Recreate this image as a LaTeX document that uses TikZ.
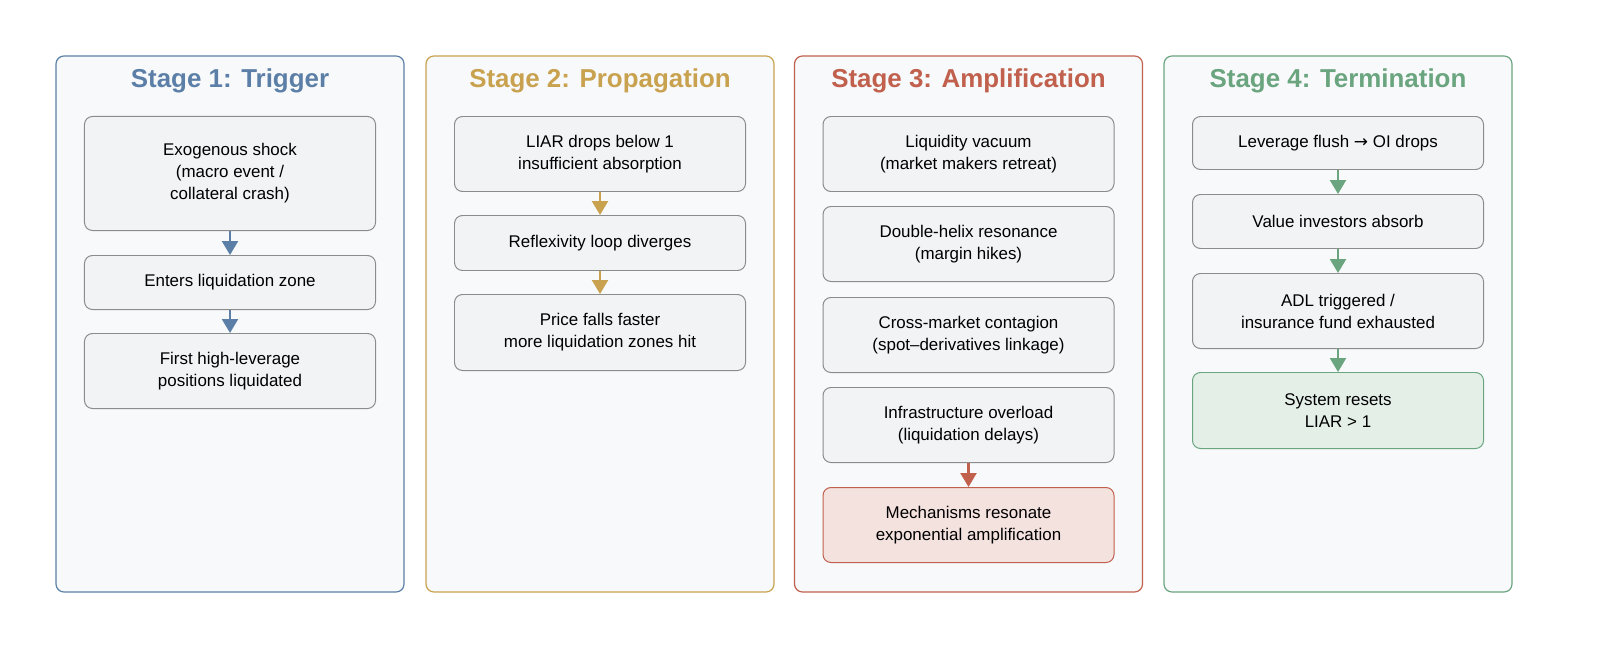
\documentclass[tikz,border=0pt]{standalone}
\usepackage{fontspec}
\setmainfont{Liberation Sans}
\usetikzlibrary{arrows.meta}
\definecolor{cblue}{HTML}{5B7FA6}
\definecolor{cgold}{HTML}{C9A24F}
\definecolor{cred}{HTML}{C0604D}
\definecolor{cgreen}{HTML}{6AA57F}
\definecolor{boxfill}{HTML}{F2F3F5}
\definecolor{panelfill}{HTML}{F8F9FB}
\begin{document}
\begin{tikzpicture}[x=0.5bp,y=-0.5bp,
                          panel/.style={rectangle, draw=#1, fill=panelfill, rounded corners=4pt, line width=0.6pt, minimum width=174bp, minimum height=268bp},
                          title/.style={text=#1, font=\bfseries\fontsize{13}{15}\selectfont},
                          stepbox/.style={rectangle, draw=black!45, fill=boxfill, rounded corners=4pt, line width=0.5pt, minimum width=145.5bp, align=center, font=\fontsize{8.5}{11}\selectfont},
                          hot/.style={stepbox, fill=#1!18, draw=#1},
                          flow/.style={-{Triangle[width=8pt,length=7pt]}, draw=#1, line width=1.2pt},
                      ]
                      \useasboundingbox (0,0) rectangle (1600,662);
                      %Panels
                      \node[panel=cblue]  (p1) at (230,324)  {};
                      \node[panel=cgold]  (p2) at (600,324)  {};
                      \node[panel=cred]   (p3) at (968.5,324) {};
                      \node[panel=cgreen] (p4) at (1338,324) {};
                      \node[title=cblue]  (h1) at (230,81)   {Stage 1: Trigger};
                      \node[title=cgold]  (h2) at (600,81)   {Stage 2: Propagation};
                      \node[title=cred]   (h3) at (968.5,81) {Stage 3: Amplification};
                      \node[title=cgreen] (h4) at (1338,81)  {Stage 4: Termination};

                      %Stage 1
                      \node[stepbox, minimum height=57bp]   (a1) at (230,173.5) {Exogenous shock\\(macro event /\\collateral crash)};
                      \node[stepbox, minimum height=27bp]   (a2) at (230,282.5) {Enters liquidation zone};
                      \node[stepbox, minimum height=37.5bp] (a3) at (230,371)   {First high-leverage\\positions liquidated};

                      %Stage 2
                      \node[stepbox, minimum height=37.5bp] (b1) at (600,154)   {LIAR drops below 1\\insufficient absorption};
                      \node[stepbox, minimum height=27.5bp] (b2) at (600,243)   {Reflexivity loop diverges};
                      \node[stepbox, minimum height=38bp]   (b3) at (600,332.5) {Price falls faster\\more liquidation zones hit};

                      %Stage 3
                      \node[stepbox, minimum height=37.5bp] (c1) at (968.5,154) {Liquidity vacuum\\(market makers retreat)};
                      \node[stepbox, minimum height=37.5bp] (c2) at (968.5,244) {Double-helix resonance\\(margin hikes)};
                      \node[stepbox, minimum height=37.5bp] (c3) at (968.5,335) {Cross-market contagion\\(spot--derivatives linkage)};
                      \node[stepbox, minimum height=37.5bp] (c4) at (968.5,425) {Infrastructure overload\\(liquidation delays)};
                      \node[hot=cred, minimum height=37.5bp] (c5) at (968.5,525) {Mechanisms resonate\\exponential amplification};

                      %Stage 4
                      \node[stepbox, minimum height=26.5bp] (d1) at (1338,143)   {Leverage flush {\fontspec{DejaVu Sans}→} OI drops};
                      \node[stepbox, minimum height=27bp]   (d2) at (1338,221.5) {Value investors absorb};
                      \node[stepbox, minimum height=37.5bp] (d3) at (1338,311)   {ADL triggered /\\insurance fund exhausted};
                      \node[hot=cgreen, minimum height=38bp] (d4) at (1338,410.5) {System resets\\LIAR > 1};

                      %Arrows
                      \draw[flow=cblue]  (a1.south) -- (a2.north);
                      \draw[flow=cblue]  (a2.south) -- (a3.north);
                      \draw[flow=cgold]  (b1.south) -- (b2.north);
                      \draw[flow=cgold]  (b2.south) -- (b3.north);
                      \draw[flow=cred]   (c4.south) -- (c5.north);
                      \draw[flow=cgreen] (d1.south) -- (d2.north);
                      \draw[flow=cgreen] (d2.south) -- (d3.north);
                      \draw[flow=cgreen] (d3.south) -- (d4.north);
                  \end{tikzpicture}
\end{document}
